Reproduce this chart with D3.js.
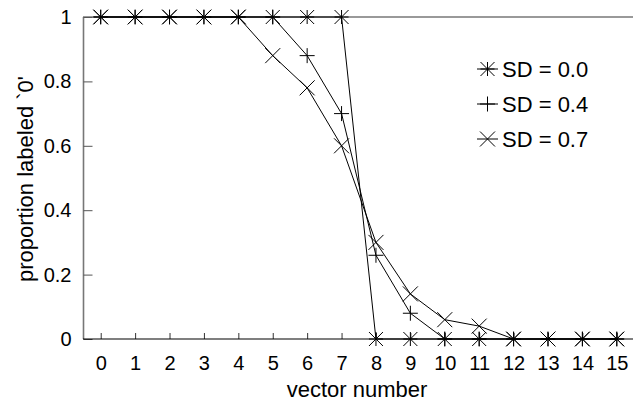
<!DOCTYPE html>
<html><head><meta charset="utf-8">
<script src="https://cdn.jsdelivr.net/npm/d3@7"></script>
<style>body{margin:0;background:#fff}svg{display:block}text{font-family:"Liberation Sans",Arial,sans-serif;fill:#000}</style>
</head><body><svg id="c" width="633" height="401"></svg>
<script>
const vectors = [0,1,2,3,4,5,6,7,8,9,10,11,12,13,14,15];
const sd00 = [1,1,1,1,1,1,1,1,0,0,0,0,0,0,0,0];
const sd04 = [1,1,1,1,1,1,0.88,0.70,0.26,0.08,0,0,0,0,0,0];
const sd07 = [1,1,1,1,1,0.88,0.78,0.60,0.30,0.14,0.06,0.04,0,0,0,0];
const seriesNames = ["SD = 0.0","SD = 0.4","SD = 0.7"];
const markerTypes = ["star","plus","cross"];
const yTicks = [0,0.2,0.4,0.6,0.8,1];
const yTickLabels = ["0","0.2","0.4","0.6","0.8","1"];
const series = [sd00, sd04, sd07];

const svg = d3.select("#c");
const x = d3.scaleLinear().domain([-0.5,15.5]).range([83.5,634]);
const y = d3.scaleLinear().domain([0,1]).range([339,17]);

function markerPath(t){
  const p = d3.path();
  const s = t==="star" ? 7 : 7.5;
  if (t==="plus"||t==="star"){ p.moveTo(-s,0);p.lineTo(s,0);p.moveTo(0,-s);p.lineTo(0,s); }
  if (t==="cross"||t==="star"){ p.moveTo(-s,-s);p.lineTo(s,s);p.moveTo(-s,s);p.lineTo(s,-s); }
  return p.toString();
}

// frame
svg.append("line").attr("x1",83.5).attr("x2",83.5).attr("y1",17).attr("y2",339).attr("stroke","#777").attr("stroke-width",1.6);
svg.append("line").attr("x1",83).attr("x2",633).attr("y1",17).attr("y2",17).attr("stroke","#777").attr("stroke-width",1.6);

// y axis
const yAxis = d3.axisLeft(y).tickValues(yTicks).tickFormat((d,i)=>yTickLabels[i]).tickSize(-9).tickPadding(12);
const gy = svg.append("g").attr("transform","translate(83.5,0)").call(yAxis);
gy.select(".domain").remove();
gy.selectAll(".tick line").attr("stroke","#555");
gy.selectAll(".tick text").attr("font-size",20).attr("font-family","Liberation Sans, Arial, sans-serif");

// x axis
const xAxis = d3.axisBottom(x).tickValues(vectors).tickSize(-6).tickPadding(17);
const gx = svg.append("g").attr("transform","translate(0,339)").call(xAxis);
gx.select(".domain").remove();
gx.selectAll(".tick line").attr("stroke","#333");
gx.selectAll(".tick text").attr("font-size",20).attr("font-family","Liberation Sans, Arial, sans-serif");
svg.append("line").attr("x1",83).attr("x2",633).attr("y1",339).attr("y2",339).attr("stroke","#000").attr("stroke-width",1.2);

// titles
svg.append("text").attr("x",357).attr("y",397).attr("text-anchor","middle").attr("font-size",22).text("vector number");
svg.append("text").attr("transform","translate(33,179) rotate(-90)").attr("text-anchor","middle").attr("font-size",22).text("proportion labeled `0'");

// lines and markers
const line = d3.line().x((d,i)=>x(vectors[i])).y(d=>y(d));
series.forEach((s,k)=>{
  svg.append("path").attr("d",line(s)).attr("fill","none").attr("stroke","#000").attr("stroke-width",1);
  svg.append("g").selectAll("path").data(s).join("path")
    .attr("transform",(d,i)=>`translate(${x(vectors[i])},${y(d)})`)
    .attr("d",markerPath(markerTypes[k])).attr("fill","none").attr("stroke","#000").attr("stroke-width",1);
});

// legend
const lg = svg.append("g");
seriesNames.forEach((n,k)=>{
  const cy = 69 + k*35;
  lg.append("line").attr("x1",477).attr("x2",498).attr("y1",cy).attr("y2",cy).attr("stroke","#000").attr("stroke-width",1);
  lg.append("path").attr("transform",`translate(487.5,${cy})`).attr("d",markerPath(markerTypes[k])).attr("fill","none").attr("stroke","#000").attr("stroke-width",1);
  lg.append("text").attr("x",502).attr("y",cy+7.5).attr("font-size",22).text(n);
});
</script></body></html>
